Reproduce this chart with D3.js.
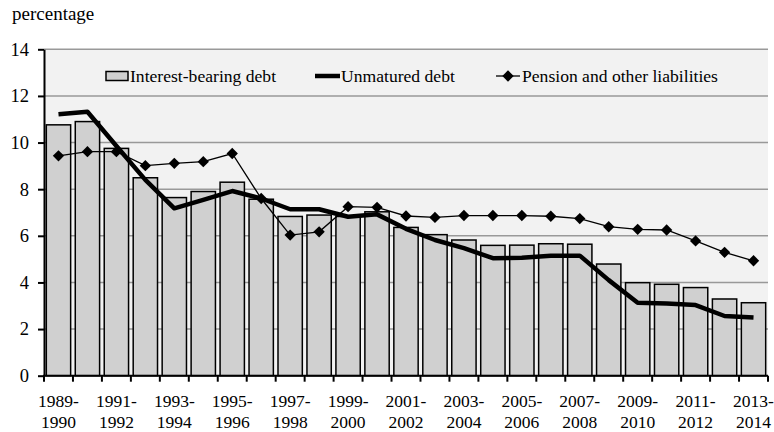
<!DOCTYPE html>
<html><head><meta charset="utf-8">
<script src="https://d3js.org/d3.v7.min.js"></script>
<style>
body{margin:0;background:#fff;}
</style></head>
<body>
<script>
const categories = ["1989-1990","1990-1991","1991-1992","1992-1993","1993-1994","1994-1995","1995-1996","1996-1997","1997-1998","1998-1999","1999-2000","2000-2001","2001-2002","2002-2003","2003-2004","2004-2005","2005-2006","2006-2007","2007-2008","2008-2009","2009-2010","2010-2011","2011-2012","2012-2013","2013-2014"];
const interestBearing = [10.76,10.9,9.75,8.49,7.64,7.9,8.3,7.57,6.83,6.89,6.83,7.03,6.36,6.05,5.82,5.59,5.6,5.66,5.64,4.79,3.99,3.92,3.78,3.29,3.13];
const unmatured = [11.21,11.32,9.85,8.4,7.18,7.54,7.92,7.6,7.14,7.14,6.82,6.92,6.3,5.82,5.47,5.04,5.06,5.15,5.15,4.1,3.13,3.1,3.03,2.56,2.5];
const pension = [9.43,9.61,9.61,9.01,9.11,9.18,9.53,7.6,6.03,6.17,7.25,7.22,6.85,6.79,6.87,6.87,6.87,6.84,6.74,6.39,6.28,6.25,5.78,5.29,4.93];
const yTicks = [0,2,4,6,8,10,12,14];
const seriesNames = ["Interest-bearing debt","Unmatured debt","Pension and other liabilities"];
const yLabel = "percentage";

const FONT="'Liberation Serif', 'Times New Roman', Times, serif";
const W=774,H=432;
const m={left:44,right:6,top:49.3,bottom:56.3};
const svg=d3.select("body").append("svg").attr("width",W).attr("height",H)
 .attr("font-family",FONT);
const xb=d3.scaleBand().domain(categories).range([m.left,W-m.right]);
const y=d3.scaleLinear().domain([0,14]).range([H-m.bottom,m.top]);

svg.append("rect").attr("x",m.left).attr("y",m.top).attr("width",W-m.right-m.left).attr("height",H-m.bottom-m.top).attr("fill","#f2f2f2");
svg.append("g").selectAll("line").data(yTicks.filter(d=>d>0)).join("line")
 .attr("x1",m.left).attr("x2",W-m.right).attr("y1",d=>y(d)).attr("y2",d=>y(d))
 .attr("stroke","#999").attr("stroke-width",1.5);

// bars
svg.append("g").selectAll("rect").data(interestBearing).join("rect")
 .attr("x",(d,i)=>xb(categories[i])+xb.bandwidth()*0.08)
 .attr("width",xb.bandwidth()*0.84)
 .attr("y",d=>y(d)).attr("height",d=>y(0)-y(d))
 .attr("fill","#d0d0d0").attr("stroke","#000").attr("stroke-width",1.5);

const cx=i=>xb(categories[i])+xb.bandwidth()/2;
// unmatured
svg.append("path").datum(unmatured)
 .attr("d",d3.line().x((d,i)=>cx(i)).y(d=>y(d)))
 .attr("fill","none").attr("stroke","#000").attr("stroke-width",4.5).attr("stroke-linejoin","round");
// pension
svg.append("path").datum(pension)
 .attr("d",d3.line().x((d,i)=>cx(i)).y(d=>y(d)))
 .attr("fill","none").attr("stroke","#000").attr("stroke-width",1.3);
svg.append("g").selectAll("path").data(pension).join("path")
 .attr("transform",(d,i)=>`translate(${cx(i)},${y(d)}) rotate(45)`)
 .attr("d",d3.symbol().type(d3.symbolSquare).size(64)).attr("fill","#000");

// axes
const ya=svg.append("g").attr("transform",`translate(${m.left},0)`)
 .call(d3.axisLeft(y).tickValues(yTicks).tickSize(6).tickPadding(9).tickSizeOuter(0));
ya.attr("font-family",FONT);
ya.select(".domain").attr("stroke-width",2);
ya.selectAll(".tick line").attr("stroke-width",2);
ya.selectAll("text").attr("font-size","18.5px").attr("font-family",FONT);

const xa=svg.append("g").attr("transform",`translate(0,${y(0)})`);
xa.append("line").attr("x1",m.left-1).attr("x2",W-m.right).attr("stroke","#000").attr("stroke-width",2);
const bounds=categories.map(c=>xb(c)).concat([W-m.right]);
xa.selectAll("line.t").data(bounds).join("line").attr("class","t")
 .attr("x1",d=>d).attr("x2",d=>d).attr("y1",0).attr("y2",6).attr("stroke","#000").attr("stroke-width",2);
const lab=xa.selectAll("text").data(categories.filter((c,i)=>i%2===0)).join("text")
 .attr("text-anchor","middle").attr("font-size","17.5px").attr("font-family",FONT)
 .attr("transform",d=>`translate(${cx(categories.indexOf(d))},0)`);
lab.append("tspan").attr("x",0).attr("y",31).text(d=>d.split("-")[0]+"-");
lab.append("tspan").attr("x",0).attr("y",52).text(d=>d.split("-")[1]);

svg.append("text").attr("x",12).attr("y",20).attr("font-size","19px").text(yLabel);

// legend
const lg=svg.append("g").attr("font-size","17.6px");
lg.append("rect").attr("x",106).attr("y",71.5).attr("width",22).attr("height",9).attr("fill","#d0d0d0").attr("stroke","#000").attr("stroke-width",1.5);
lg.append("text").attr("x",130).attr("y",82).text(seriesNames[0]);
lg.append("line").attr("x1",315).attr("x2",340).attr("y1",76).attr("y2",76).attr("stroke","#000").attr("stroke-width",4.5);
lg.append("text").attr("x",341).attr("y",82).text(seriesNames[1]);
lg.append("line").attr("x1",496).attr("x2",520).attr("y1",76).attr("y2",76).attr("stroke","#000").attr("stroke-width",1.3);
lg.append("path").attr("transform","translate(508,76) rotate(45)").attr("d",d3.symbol().type(d3.symbolSquare).size(64)).attr("fill","#000");
lg.append("text").attr("x",522).attr("y",82).text(seriesNames[2]);
</script>
</body></html>
